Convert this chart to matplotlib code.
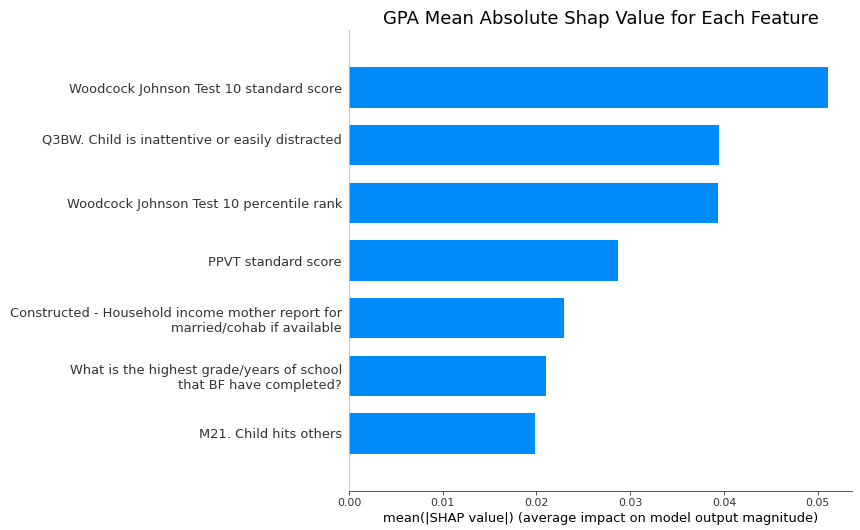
import matplotlib
matplotlib.use("Agg")
import matplotlib.pyplot as plt
import numpy as np

features = [
    "Woodcock Johnson Test 10 standard score",
    "Q3BW. Child is inattentive or easily distracted\n",
    "Woodcock Johnson Test 10 percentile rank",
    "PPVT standard score",
    "Constructed - Household income mother report for\nmarried/cohab if available",
    "What is the highest grade/years of school\nthat BF have completed?",
    "M21. Child hits others",
]
values = [0.0511, 0.0395, 0.0394, 0.0287, 0.0229, 0.0210, 0.0198]
title = "GPA Mean Absolute Shap Value for Each Feature"
xlabel = "mean(|SHAP value|) (average impact on model output magnitude)"

dpi = 72
fig = plt.figure(figsize=(860 / dpi, 530 / dpi), dpi=dpi)
ax = fig.add_axes([349 / 860, 1 - 491 / 530, (852 - 349) / 860, (491 - 30) / 530])

n = len(features)
y_pos = np.arange(n)[::-1]
ax.barh(y_pos, values, 0.7, align="center", color="#008bfb")
ax.set_yticks(y_pos)
ax.set_yticklabels(features, fontsize=13, color="#333333")
ax.set_ylim(-1, n)
ax.set_xlim(0, max(values) * 1.05)

ax.xaxis.set_ticks_position("bottom")
ax.yaxis.set_ticks_position("none")
ax.spines["right"].set_visible(False)
ax.spines["top"].set_visible(False)
ax.spines["left"].set_color("#bbbbbb")
ax.spines["bottom"].set_color("#333333")
ax.tick_params(axis="x", labelsize=11, colors="#333333")
ax.set_xlabel(xlabel, fontsize=13, color="#000000")
ax.set_title(title, fontsize=18)

fig.savefig("out.png", dpi=dpi)
